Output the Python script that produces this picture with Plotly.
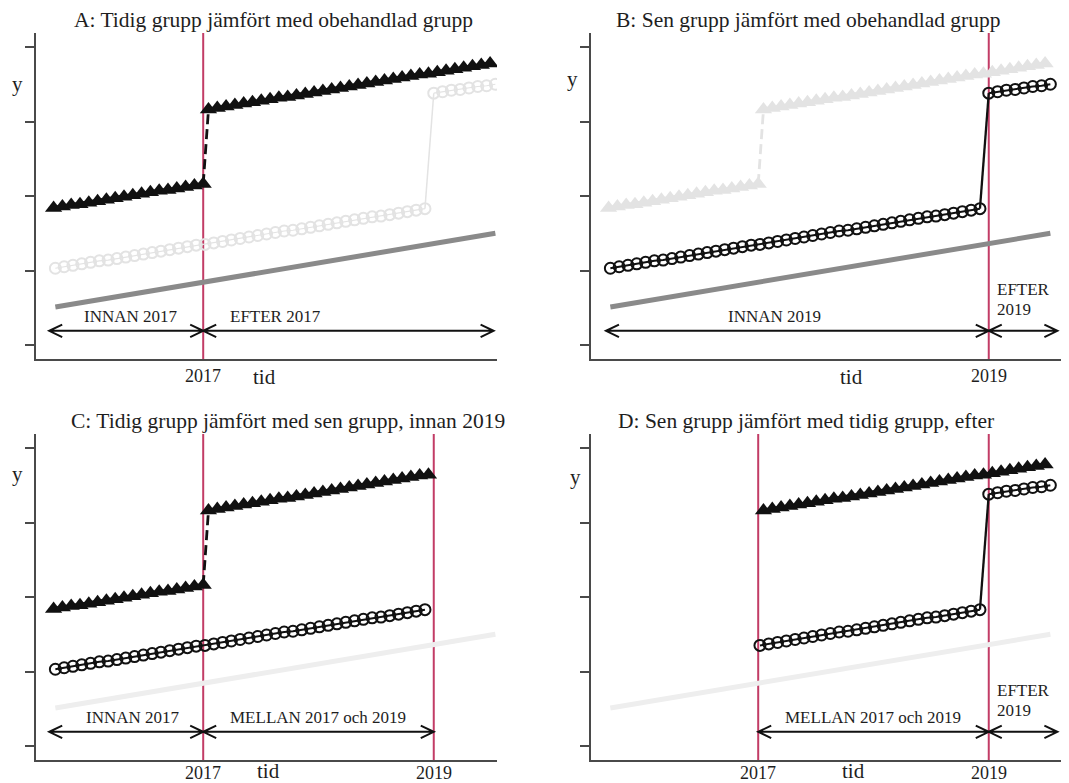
import plotly.graph_objects as go

# The page adds an 8 px body margin, so the figure is drawn 8 px smaller and every
# reference pixel position is shifted by that offset.
PAGE_W, PAGE_H = 1069, 783
OFF = 8
FW, FH = PAGE_W - OFF, PAGE_H - OFF

# ---------------- data ----------------
YEAR_TEXT = ["2017", "2019"]
YEAR_T = [19.0, 45.2]          # position of the two reform years on the tid axis

# Tidig grupp (filled triangles)
TIDIG_PRE_T = [2, 3, 4, 5, 6, 7, 8, 9, 10, 11, 12, 13, 14, 15, 16, 17, 18, 19]
TIDIG_PRE_Y = [18.4, 18.6, 18.8, 18.9, 19.1, 19.3, 19.5, 19.7, 19.9, 20.1, 20.3, 20.5,
               20.7, 20.8, 21.0, 21.2, 21.4, 21.6]
TIDIG_POST_T = [19.6, 20.6, 21.6, 22.6, 23.6, 24.6, 25.6, 26.6, 27.6, 28.6, 29.6, 30.6,
                31.6, 32.6, 33.6, 34.6, 35.6, 36.6, 37.6, 38.6, 39.6, 40.6, 41.6, 42.6,
                43.6, 44.6, 45.6, 46.6, 47.6, 48.6, 49.6, 50.6, 51.6]
TIDIG_POST_Y = [31.6, 31.8, 32.0, 32.2, 32.4, 32.6, 32.8, 33.0, 33.2, 33.3, 33.5, 33.7,
                33.9, 34.1, 34.3, 34.5, 34.7, 34.9, 35.1, 35.3, 35.5, 35.7, 35.9, 36.1,
                36.3, 36.4, 36.6, 36.8, 37.0, 37.2, 37.4, 37.6, 37.8]

# Sen grupp (open circles)
SEN_PRE_T = [2.2, 3.2, 4.2, 5.2, 6.2, 7.2, 8.2, 9.2, 10.2, 11.2, 12.2, 13.2, 14.2, 15.2,
             16.2, 17.2, 18.2, 19.2, 20.2, 21.2, 22.2, 23.2, 24.2, 25.2, 26.2, 27.2, 28.2,
             29.2, 30.2, 31.2, 32.2, 33.2, 34.2, 35.2, 36.2, 37.2, 38.2, 39.2, 40.2, 41.2,
             42.2, 43.2, 44.2]
SEN_PRE_Y = [10.3, 10.5, 10.7, 10.9, 11.1, 11.3, 11.4, 11.6, 11.8, 12.0, 12.2, 12.4, 12.6,
             12.8, 13.0, 13.2, 13.4, 13.5, 13.7, 13.9, 14.1, 14.3, 14.5, 14.7, 14.9, 15.1,
             15.3, 15.4, 15.6, 15.8, 16.0, 16.2, 16.4, 16.6, 16.8, 17.0, 17.2, 17.3, 17.5,
             17.7, 17.9, 18.1, 18.3]
SEN_POST_T = [45.2, 46.2, 47.2, 48.2, 49.2, 50.2, 51.2, 52.2]
SEN_POST_Y = [33.8, 34.0, 34.2, 34.3, 34.5, 34.7, 34.8, 35.0]

# Obehandlad grupp (plain trend line)
OBEH_T = [2.2, 52.2]
OBEH_Y = [5.1, 15.0]

Y_TICKS = [0, 10, 20, 30, 40]

TITLES = ["A: Tidig grupp jämfört med obehandlad grupp",
          "B: Sen grupp jämfört med obehandlad grupp",
          "C: Tidig grupp jämfört med sen grupp, innan 2019",
          "D: Sen grupp jämfört med tidig grupp, efter"]

# period arrows: (start, end, label lines, label x, label y of first line, anchor)
ARROWS_A = [(1.5, 19.0, ["INNAN 2017"], 10.8, 3.8, "center"),
            (19.0, 52.0, ["EFTER 2017"], 27.2, 3.8, "center")]
ARROWS_B = [(1.7, 45.2, ["INNAN 2019"], 20.9, 3.8, "center"),
            (45.2, 53.0, ["EFTER", "2019"], 45.9, 7.4, "left")]
ARROWS_C = [(1.5, 19.0, ["INNAN 2017"], 11.0, 3.8, "center"),
            (19.0, 45.2, ["MELLAN 2017 och 2019"], 32.0, 3.8, "center")]
ARROWS_D = [(19.0, 45.2, ["MELLAN 2017 och 2019"], 32.0, 3.8, "center"),
            (45.2, 53.0, ["EFTER", "2019"], 45.9, 7.4, "left")]

# ---------------- style ----------------
BLACK = "#111111"
LIGHT = "#e3e3e3"
GRAY = "#8a8a8a"
FAINT = "#eeeeee"
RED = "#c23c66"
AXIS = "#4a4a4a"
TXT = "#1e1e1e"
FONT = "Liberation Serif"

PX_PER_T = 8.8
PX_PER_Y = 7.45
ARROW_Y = 1.9
LINE_GAP_Y = 20 / PX_PER_Y


def px_x(x):
    return (x - OFF) / FW


def px_y(y):
    return 1 - (y - OFF) / FH


LEFT_DOM = [px_x(36), px_x(497)]
RIGHT_DOM = [px_x(591), 1.0]
TOP_DOM = [px_y(359), px_y(33)]
BOT_DOM = [px_y(760), px_y(434)]
X_RANGE_L = [0, (497 - 36) / PX_PER_T]
X_RANGE_R = [0, (PAGE_W - 591) / PX_PER_T]
Y_RANGE = [-14 / PX_PER_Y, 312 / PX_PER_Y]

INF = 1e9
PANELS = [
    dict(n=1, xdom=LEFT_DOM, ydom=TOP_DOM, xr=X_RANGE_L, tri=BLACK, circ=LIGHT, obeh=GRAY,
         win=(-INF, INF), years=[0], arrows=ARROWS_A, title_px=(273, 20),
         y_px=(17, 84), tid_px=(264, 377), year_py=376),
    dict(n=2, xdom=RIGHT_DOM, ydom=TOP_DOM, xr=X_RANGE_R, tri=LIGHT, circ=BLACK, obeh=GRAY,
         win=(-INF, INF), years=[1], arrows=ARROWS_B, title_px=(808, 20),
         y_px=(572, 79), tid_px=(851, 377), year_py=376),
    dict(n=3, xdom=LEFT_DOM, ydom=BOT_DOM, xr=X_RANGE_L, tri=BLACK, circ=BLACK, obeh=FAINT,
         win=(-INF, YEAR_T[1]), years=[0, 1], arrows=ARROWS_C, title_px=(288, 421),
         y_px=(17, 474), tid_px=(268, 771), year_py=773),
    dict(n=4, xdom=RIGHT_DOM, ydom=BOT_DOM, xr=X_RANGE_R, tri=BLACK, circ=BLACK, obeh=FAINT,
         win=(YEAR_T[0], INF), years=[0, 1], arrows=ARROWS_D, title_px=(806, 421),
         y_px=(575, 477), tid_px=(853, 771), year_py=773),
]


def sel(ts, ys, lo, hi):
    pts = [(t, y) for t, y in zip(ts, ys) if lo < t < hi]
    return [p[0] for p in pts], [p[1] for p in pts]


fig = go.Figure()
shapes = []
annotations = []

for p in PANELS:
    n = p["n"]
    xa = "x" if n == 1 else f"x{n}"
    ya = "y" if n == 1 else f"y{n}"
    lo, hi = p["win"]

    # untreated trend line
    fig.add_trace(go.Scatter(x=OBEH_T, y=OBEH_Y, mode="lines", xaxis=xa, yaxis=ya,
                             line=dict(color=p["obeh"], width=5), showlegend=False,
                             hoverinfo="skip"))

    # late group (circles)
    cpre = sel(SEN_PRE_T, SEN_PRE_Y, lo, hi)
    cpost = sel(SEN_POST_T, SEN_POST_Y, lo, hi)
    cw = 1.2 if p["circ"] == LIGHT else 2.0
    if cpre[0] and cpost[0]:
        fig.add_trace(go.Scatter(x=[cpre[0][-1], cpost[0][0]], y=[cpre[1][-1], cpost[1][0]],
                                 mode="lines", xaxis=xa, yaxis=ya,
                                 line=dict(color=p["circ"], width=cw + 0.3),
                                 showlegend=False, hoverinfo="skip"))
    for ts, ys in (cpre, cpost):
        if ts:
            fig.add_trace(go.Scatter(x=ts, y=ys, mode="lines+markers", xaxis=xa, yaxis=ya,
                                     line=dict(color=p["circ"], width=cw),
                                     marker=dict(symbol="circle-open", size=11,
                                                 color=p["circ"],
                                                 line=dict(color=p["circ"], width=2)),
                                     showlegend=False, hoverinfo="skip"))

    # early group (triangles)
    tpre = sel(TIDIG_PRE_T, TIDIG_PRE_Y, lo, hi)
    tpost = sel(TIDIG_POST_T, TIDIG_POST_Y, lo, hi)
    if tpre[0] and tpost[0]:
        fig.add_trace(go.Scatter(x=[tpre[0][-1], tpost[0][0]], y=[tpre[1][-1], tpost[1][0]],
                                 mode="lines", xaxis=xa, yaxis=ya,
                                 line=dict(color=p["tri"], width=2.8, dash="10px,5px"),
                                 showlegend=False, hoverinfo="skip"))
    for ts, ys in (tpre, tpost):
        if ts:
            fig.add_trace(go.Scatter(x=ts, y=ys, mode="lines+markers", xaxis=xa, yaxis=ya,
                                     line=dict(color=p["tri"], width=4),
                                     marker=dict(symbol="triangle-up", size=15,
                                                 color=p["tri"], line=dict(width=0)),
                                     showlegend=False, hoverinfo="skip"))

    # red reform-year lines
    for k in p["years"]:
        shapes.append(dict(type="line", xref=xa, yref=f"{ya} domain", x0=YEAR_T[k],
                           x1=YEAR_T[k], y0=0, y1=1, layer="below",
                           line=dict(color=RED, width=2)))
        annotations.append(dict(xref=xa, yref="paper", x=YEAR_T[k], y=px_y(p["year_py"]),
                                text=YEAR_TEXT[k], showarrow=False, xanchor="center",
                                yanchor="middle",
                                font=dict(family=FONT, size=18, color=TXT)))

    # period arrows with open chevron heads
    dx = 13 / PX_PER_T
    dy = 6.3 / PX_PER_Y
    for (a0, a1, lines, lx, ly, anchor) in p["arrows"]:
        y = ARROW_Y
        path = (f"M{a0},{y} L{a1},{y} "
                f"M{a0 + dx},{y + dy} L{a0},{y} L{a0 + dx},{y - dy} "
                f"M{a1 - dx},{y + dy} L{a1},{y} L{a1 - dx},{y - dy}")
        shapes.append(dict(type="path", xref=xa, yref=ya, path=path, layer="above",
                           line=dict(color=BLACK, width=2)))
        for i, label in enumerate(lines):
            annotations.append(dict(xref=xa, yref=ya, x=lx, y=ly - i * LINE_GAP_Y,
                                    text=label, showarrow=False, xanchor=anchor,
                                    yanchor="middle",
                                    font=dict(family=FONT, size=17, color=TXT)))

    # title, y label, tid label
    tx, ty = p["title_px"]
    annotations.append(dict(xref="paper", yref="paper", x=px_x(tx), y=px_y(ty),
                            text=TITLES[n - 1], showarrow=False, xanchor="center",
                            yanchor="middle", font=dict(family=FONT, size=21.5, color=TXT)))
    yx, yy = p["y_px"]
    annotations.append(dict(xref="paper", yref="paper", x=px_x(yx), y=px_y(yy), text="y",
                            showarrow=False, xanchor="center", yanchor="middle",
                            font=dict(family=FONT, size=21, color=TXT)))
    dxp, dyp = p["tid_px"]
    annotations.append(dict(xref="paper", yref="paper", x=px_x(dxp), y=px_y(dyp), text="tid",
                            showarrow=False, xanchor="center", yanchor="middle",
                            font=dict(family=FONT, size=21, color=TXT)))

    xkey = "xaxis" if n == 1 else f"xaxis{n}"
    ykey = "yaxis" if n == 1 else f"yaxis{n}"
    fig.update_layout(**{
        xkey: dict(domain=p["xdom"], range=p["xr"], anchor=ya, showline=True,
                   linecolor=AXIS, linewidth=1.5, showgrid=False, zeroline=False,
                   ticks="", showticklabels=False),
        ykey: dict(domain=p["ydom"], range=Y_RANGE, anchor=xa, showline=True,
                   linecolor=AXIS, linewidth=1.5, showgrid=False, zeroline=False,
                   ticks="outside", ticklen=9, tickwidth=1.5, tickcolor=AXIS,
                   tickvals=Y_TICKS, showticklabels=False),
    })

fig.update_layout(width=FW, height=FH, margin=dict(l=0, r=0, t=0, b=0),
                  paper_bgcolor="white", plot_bgcolor="white", showlegend=False,
                  shapes=shapes, annotations=annotations)

fig.write_html("out.html")
